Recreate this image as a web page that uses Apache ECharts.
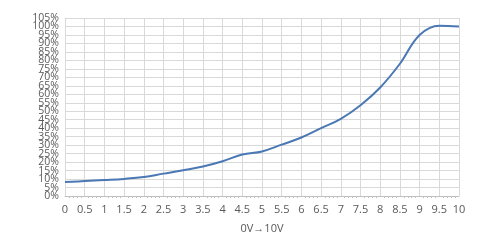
<!DOCTYPE html>
<html><head><meta charset="utf-8">
<script src="https://cdn.jsdelivr.net/npm/echarts@6/dist/echarts.min.js"></script>
<style>html,body{margin:0;padding:0;background:#fff}#c{width:500px;height:240px}</style>
</head><body><div id="c"></div>
<script>
var xValues = [0,0.5,1,1.5,2,2.5,3,3.5,4,4.5,5,5.5,6,6.5,7,7.5,8,8.5,9,9.5,10];
var yValues = [8.2,8.8,9.4,10.1,11.2,13.2,15.2,17.4,20.5,24.5,26.3,30.3,34.5,40,45.5,53.5,64,78,95,100.5,100];
var xAxisTitle = '0V\u219210V';
var data = xValues.map(function(x,i){return [x,yValues[i]];});
var chart = echarts.init(document.getElementById('c'), null, {renderer:'canvas'});
var font = 'Open Sans';
var yLabel = {color:'#595959',fontSize:10.5,fontFamily:font,margin:6,formatter:'{value}%',hideOverlap:false};
chart.setOption({
  animation:false,
  grid:{left:65,right:41,top:18,bottom:44},
  xAxis:{type:'value',min:0,max:10,interval:0.5,
    name:xAxisTitle,nameLocation:'middle',nameGap:27,
    nameTextStyle:{color:'#595959',fontSize:11,fontFamily:font},
    axisLine:{lineStyle:{color:'#bfbfbf'}},
    axisTick:{show:false},
    minorTick:{show:true,splitNumber:5,length:2,lineStyle:{color:'#bfbfbf'}},
    axisLabel:{color:'#595959',fontSize:11,fontFamily:font,margin:8,showMinLabel:true,showMaxLabel:true,hideOverlap:false},
    splitLine:{show:true,lineStyle:{color:'#d9d9d9'}}
  },
  yAxis:[{type:'value',min:0,max:105,interval:5,
    axisLine:{show:true,lineStyle:{color:'#d9d9d9'}},
    axisTick:{show:false},
    axisLabel:Object.assign({showMinLabel:false,showMaxLabel:false},yLabel),
    splitLine:{show:true,lineStyle:{color:'#d9d9d9'}}
  },{type:'value',min:0,max:105,interval:105,position:'left',
    axisLine:{show:false},axisTick:{show:false},splitLine:{show:false},
    axisLabel:Object.assign({showMinLabel:true,showMaxLabel:true},yLabel)
  }],
  series:[{type:'line',data:data,smooth:0.4,showSymbol:false,
    lineStyle:{color:'#4a78b4',width:2}}]
});
</script></body></html>
